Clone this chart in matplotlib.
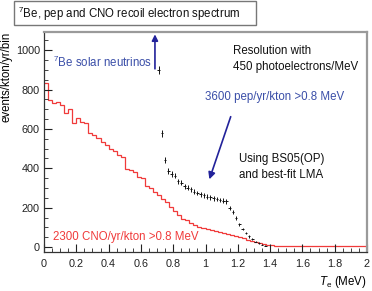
import numpy as np
import matplotlib
matplotlib.use("Agg")
import matplotlib.pyplot as plt
from matplotlib.patches import Rectangle

plt.rcParams['font.family'] = ['Liberation Sans', 'DejaVu Sans']
plt.rcParams['mathtext.fontset'] = 'custom'
plt.rcParams['mathtext.rm'] = 'Liberation Sans'
plt.rcParams['mathtext.it'] = 'Liberation Sans:italic'

# ---- data ----
cno_bin_width = 0.025
cno_values = [833, 747, 731, 739, 722, 683, 700, 630, 655, 635,
              630, 578, 570, 555, 535, 518, 500, 490, 465, 458,
              398, 390, 382, 355, 350, 312, 300, 280, 265, 245,
              228, 205, 185, 165, 145, 135, 122, 112, 104, 97,
              92, 87, 82, 77, 72, 67, 62, 57, 50, 44,
              38, 32, 26, 21, 16, 12, 9, 7, 5, 4,
              3, 3, 3, 3, 3, 3, 3, 3, 3, 3,
              3, 3, 3, 3, 3, 3, 3, 3, 3, 3]

pep_x = [0.71, 0.73, 0.75, 0.77, 0.79, 0.81, 0.83, 0.85, 0.87, 0.89,
         0.91, 0.93, 0.95, 0.97, 0.99, 1.01, 1.03, 1.05, 1.07, 1.09,
         1.11, 1.13, 1.15, 1.17, 1.19, 1.21, 1.23, 1.25, 1.27, 1.29,
         1.31, 1.33, 1.35, 1.37]
pep_y = [900, 578, 442, 385, 372, 362, 335, 327, 308, 302,
         293, 282, 274, 268, 262, 256, 252, 247, 243, 239,
         236, 232, 200, 178, 148, 115, 92, 72, 54, 40,
         28, 20, 13, 8]
pep_err = [20, 18, 15, 14, 14, 13, 13, 13, 12, 12,
           12, 12, 12, 12, 11, 11, 11, 11, 11, 11,
           11, 11, 10, 10, 9, 8, 7, 7, 6, 5,
           4, 4, 3, 3]

x_ticks = [0, 0.2, 0.4, 0.6, 0.8, 1.0, 1.2, 1.4, 1.6, 1.8, 2.0]
x_ticklabels = ['0', '0.2', '0.4', '0.6', '0.8', '1', '1.2', '1.4', '1.6', '1.8', '2']
y_ticks = [0, 200, 400, 600, 800, 1000]

red = '#f03a3a'
blue_arrow = '#22229a'
blue_text = '#3a4ea8'

W, H = 372, 291
fig = plt.figure(figsize=(W / 100, H / 100), dpi=100)
ax = fig.add_axes([44 / W, 1 - 252 / H, (367 - 44) / W, (252 - 32) / H])

edges = np.arange(len(cno_values) + 1) * cno_bin_width
ax.stairs(cno_values, edges, color=red, lw=0.9, baseline=None)

ax.errorbar(pep_x, pep_y, yerr=pep_err, xerr=0.008, fmt='none',
            ecolor='#111111', elinewidth=0.7, capsize=0)

ax.set_xlim(0, 2)
ax.set_ylim(-25, 1092)
ax.set_xticks(x_ticks)
ax.set_xticklabels(x_ticklabels)
ax.set_yticks(y_ticks)
ax.set_xticks(np.arange(0, 2.0001, 0.05), minor=True)
ax.set_yticks(np.arange(0, 1090, 50), minor=True)
ax.tick_params(which='both', direction='in', top=False, right=False,
               labelsize=7.8, colors='#222222')
ax.tick_params(which='major', length=6, width=0.8)
ax.tick_params(which='minor', length=3, width=0.6)
ax.tick_params(axis='x', pad=5)
ax.tick_params(axis='y', pad=3)

for s in ['left', 'bottom']:
    ax.spines[s].set_color('#333333')
    ax.spines[s].set_linewidth(0.9)
for s in ['top', 'right']:
    ax.spines[s].set_color('#9a9a9a')
    ax.spines[s].set_linewidth(1.6)

ax.set_ylabel('events/kton/yr/bin', loc='top', fontsize=8.3, labelpad=2)
ax.set_xlabel(r'$T_{\mathrm{e}}$ (MeV)', loc='right', fontsize=8.3, labelpad=4)

# annotations
ax.annotate('', xy=(0.687, 1080), xytext=(0.687, 905),
            arrowprops=dict(arrowstyle='-|>', color=blue_arrow, lw=1.2,
                            mutation_scale=9, shrinkA=0, shrinkB=0))
ax.text(0.055, 940, r'$^{7}$Be solar neutrinos', color=blue_text,
        fontsize=8.3, ha='left', va='center')
ax.text(1.17, 955, 'Resolution with\n450 photoelectrons/MeV', color='#111111',
        fontsize=8.3, ha='left', va='center', linespacing=1.45)
ax.text(0.995, 762, '3600 pep/yr/kton >0.8 MeV', color=blue_text,
        fontsize=8.3, ha='left', va='center')
ax.annotate('', xy=(1.024, 344), xytext=(1.156, 662),
            arrowprops=dict(arrowstyle='-|>', color=blue_arrow, lw=1.2,
                            mutation_scale=10, shrinkA=0, shrinkB=0))
ax.text(1.21, 406, 'Using BS05(OP)\nand best-fit LMA', color='#111111',
        fontsize=8.3, ha='left', va='center', linespacing=1.45)
ax.text(0.055, 50, '2300 CNO/yr/kton >0.8 MeV', color=red,
        fontsize=8.3, ha='left', va='center')

# title box
fig.add_artist(Rectangle((14 / W, 1 - 25 / H), 242 / W, 24 / H,
                         transform=fig.transFigure, fill=False,
                         edgecolor='#777777', lw=1.0))
fig.text(18 / W, 1 - 13.5 / H, r'$^{7}$Be, pep and CNO recoil electron spectrum',
         fontsize=8.3, ha='left', va='center', color='#111111')

fig.savefig('out.png', dpi=100)
